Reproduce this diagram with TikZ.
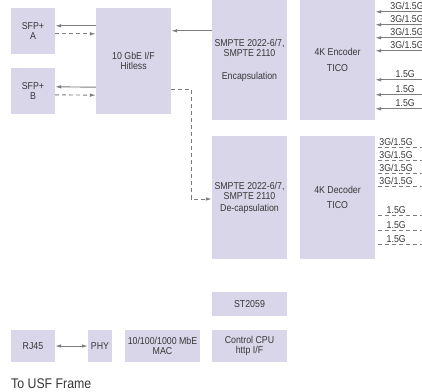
\documentclass[tikz,border=0pt]{standalone}
\usepackage{fontspec}
\setmainfont{Liberation Sans}[FakeStretch=0.88]
\usepackage{xcolor}
\usetikzlibrary{arrows.meta}

\definecolor{boxfill}{RGB}{217,214,234}
\definecolor{linegray}{RGB}{125,125,125}
\definecolor{textgray}{RGB}{55,55,55}

\begin{document}
\begin{tikzpicture}[
        x=1pt, y=-1pt,
        block/.style={
            rectangle, fill=boxfill, inner sep=0pt, text=textgray,
            align=center, font=\fontsize{10}{10}\selectfont
        },
        arrow/.style={->, draw=linegray, line width=0.9pt, >={Latex[length=6pt,width=3.6pt]}},
        dasharrow/.style={arrow, dash pattern=on 4pt off 3pt},
        dashline/.style={draw=linegray, line width=0.9pt, dash pattern=on 4pt off 3pt},
        sig/.style={inner sep=0pt, text=textgray, font=\fontsize{10}{10}\selectfont}
    ]
        \useasboundingbox (0,0) rectangle (422,391);
        \coordinate (edge) at (422,0);

        % network side
        \node[block, minimum width=44pt, minimum height=46pt] (sfpa) at (33,31) {SFP+\\A};
        \node[block, minimum width=44pt, minimum height=46pt] (sfpb) at (33,91) {SFP+\\B};
        \node[block, minimum width=75pt, minimum height=106pt] (gbe) at (133.5,61) {10 GbE I/F\\Hitless};

        % encapsulation / decapsulation
        \node[block, minimum width=75pt, minimum height=120pt] (encap) at (249.5,60)
            {SMPTE 2022-6/7,\\SMPTE 2110\\[13pt]Encapsulation};
        \node[block, minimum width=75pt, minimum height=120pt] (enc) at (337.5,60)
            {4K Encoder\\[6pt]TICO};
        \node[block, minimum width=75pt, minimum height=123pt] (decap) at (249.5,197.5)
            {SMPTE 2022-6/7,\\SMPTE 2110\\[2pt]De-capsulation};
        \node[block, minimum width=75pt, minimum height=123pt] (dec) at (337.5,197.5)
            {4K Decoder\\[5pt]TICO};

        % control
        \node[block, minimum width=75pt, minimum height=24pt] (ptp) at (249.5,304) {ST2059};
        \node[block, minimum width=75pt, minimum height=32pt] (cpu) at (249.5,346) {Control CPU\\http I/F};
        \node[block, minimum width=75pt, minimum height=32pt] (mac) at (162.5,346) {10/100/1000 MbE\\MAC};
        \node[block, minimum width=24pt, minimum height=32pt] (phy) at (100,346) {PHY};
        \node[block, minimum width=44pt, minimum height=32pt] (rj45) at (33,346) {RJ45};
        \node[anchor=base west, inner sep=0pt, text=textgray, font=\fontsize{14}{14}\selectfont]
            (usf) at (11,388) {To USF Frame};

        % SFP links
        \draw[arrow] ([yshift=-18pt]gbe.north west) -- ([yshift=-18pt]sfpa.north east);
        \draw[dasharrow] ([yshift=-26pt]sfpa.north east) -- ([yshift=-26pt]gbe.north west);
        \draw[arrow] ([yshift=27pt]gbe.south west) -- ([yshift=-19pt]sfpb.north east);
        \draw[dasharrow] ([yshift=-27pt]sfpb.north east) -- ([yshift=19pt]gbe.south west);

        % to and from the IP side
        \draw[arrow] ([yshift=-31pt]encap.north west) -- ([yshift=-23pt]gbe.north east);
        \draw[dasharrow] ([yshift=25pt]gbe.south east) -| (191,199) -- ([yshift=-1.5pt]decap.west);

        \draw[arrow, <->] (rj45) -- (phy);

        % encoder inputs
        \foreach \y in {12,25,38,51} {
            \coordinate (ein) at ([yshift=-\y pt]enc.north east);
            \draw[arrow] (ein -| edge) -- (ein);
            \node[sig, anchor=base west] at ([xshift=15pt, yshift=2.5pt]ein) {3G/1.5G};
        }
        \foreach \y in {80,95,109} {
            \coordinate (ein) at ([yshift=-\y pt]enc.north east);
            \draw[arrow] (ein -| edge) -- (ein);
            \node[sig, anchor=base] at ([xshift=30pt, yshift=2.5pt]ein) {1.5G};
        }

        % decoder outputs
        \foreach \y in {12,25,38,51} {
            \coordinate (dout) at ([xshift=3pt, yshift=-\y pt]dec.north east);
            \draw[dashline] (dout) -- (dout -| edge);
            \node[sig, anchor=base west] at ([xshift=1pt, yshift=2.5pt]dout) {3G/1.5G};
        }
        \foreach \y in {80,95,109} {
            \coordinate (dout) at ([xshift=3pt, yshift=-\y pt]dec.north east);
            \draw[dashline] (dout) -- (dout -| edge);
            \node[sig, anchor=base] at ([xshift=18pt, yshift=2.5pt]dout) {1.5G};
        }
    \end{tikzpicture}
\end{document}
